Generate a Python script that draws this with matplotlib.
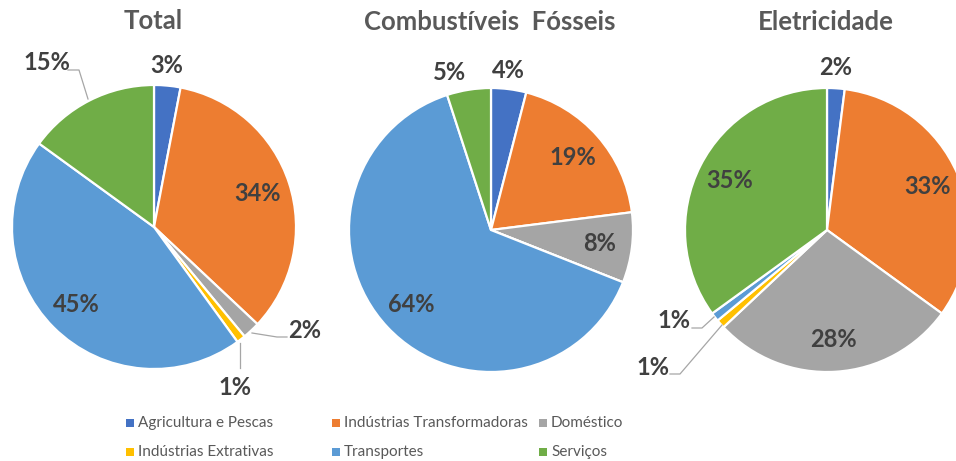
import numpy as np
import matplotlib
matplotlib.use("Agg")
import matplotlib.pyplot as plt
from matplotlib.patches import Rectangle

# ---------------- data ----------------
categories = ["Agricultura e Pescas", "Indústrias Transformadoras", "Doméstico",
              "Indústrias Extrativas", "Transportes", "Serviços"]
titles = ["Total", "Combustíveis  Fósseis", "Eletricidade"]
total_vals = [3, 34, 2, 1, 45, 15]
fosseis_vals = [4, 19, 8, 0, 64, 5]
eletricidade_vals = [2, 33, 28, 1, 1, 35]

# ---------------- style / layout ----------------
colors = ["#4472C4", "#ED7D31", "#A5A5A5", "#FFC000", "#5B9BD5", "#70AD47"]
W, H = 956, 461
FONT = "Lato"
LABEL_COLOR = "#404040"
TITLE_COLOR = "#595959"
LEADER_COLOR = "#A6A6A6"

pies = [
    dict(vals=total_vals, center=(154, 227), title_xy=(153, 21),
         outside={0: (167, 66), 2: (305, 330), 3: (235, 387), 5: (47, 63)},
         leaders=[[(68, 70), (79, 70), (88, 99)],
                  [(287, 337), (277, 337), (252, 333)],
                  [(240, 343), (240, 368)]]),
    dict(vals=fosseis_vals, center=(491, 230), title_xy=(490, 22),
         outside={0: (508, 71), 5: (450, 73)}, leaders=[]),
    dict(vals=eletricidade_vals, center=(827, 230), title_xy=(826, 22),
         outside={0: (836, 68), 3: (653, 367), 4: (674, 320)},
         leaders=[[(692, 328), (702, 328), (714, 317)],
                  [(670, 374), (680, 374), (722, 325)]]),
]
R = 142
INNER_R = 0.77

fig = plt.figure(figsize=(W / 100, H / 100), dpi=100)
ax = fig.add_axes([0, 0, 1, 1])

def fy(y):
    return H - y

for p, title in zip(pies, titles):
    vals = np.array(p["vals"], dtype=float)
    cx, cy = p["center"]
    ax.pie(vals, colors=colors, startangle=90, counterclock=False,
           center=(cx, fy(cy)), radius=R,
           wedgeprops=dict(edgecolor="white", linewidth=1.6))
    frac = vals / vals.sum()
    starts = np.concatenate([[0], np.cumsum(frac)[:-1]])
    for i, v in enumerate(p["vals"]):
        if v == 0:
            continue
        if i in p["outside"]:
            x, y = p["outside"][i]
        else:
            mid = (starts[i] + frac[i] / 2) * 2 * np.pi
            x = cx + INNER_R * R * np.sin(mid)
            y = cy - INNER_R * R * np.cos(mid)
        ax.text(x, fy(y), f"{v}%", ha="center", va="center", fontsize=17,
                fontweight="bold", color=LABEL_COLOR, family=FONT)
    for line in p["leaders"]:
        xs = [pt[0] for pt in line]
        ys = [fy(pt[1]) for pt in line]
        ax.plot(xs, ys, color=LEADER_COLOR, lw=0.9)
    tx, ty = p["title_xy"]
    ax.text(tx, fy(ty), title, ha="center", va="center", fontsize=18.5,
            fontweight="bold", color=TITLE_COLOR, family=FONT)

# legend (manual, Excel-like fixed columns)
legend_order = [0, 1, 2, 3, 4, 5]
col_x = [126, 332, 539]
row_y = [423, 452]
for k, ci in enumerate(legend_order):
    r, c = divmod(k, 3)
    mx, my = col_x[c], row_y[r]
    ax.add_patch(Rectangle((mx, fy(my) - 4), 8, 8, facecolor=colors[ci],
                           edgecolor="none"))
    ax.text(mx + 12, fy(my), categories[ci], ha="left", va="center",
            fontsize=11, color=TITLE_COLOR, family=FONT)

ax.set_xlim(0, W)
ax.set_ylim(0, H)
ax.set_aspect("auto")
ax.axis("off")
fig.savefig("out.png", dpi=100)
